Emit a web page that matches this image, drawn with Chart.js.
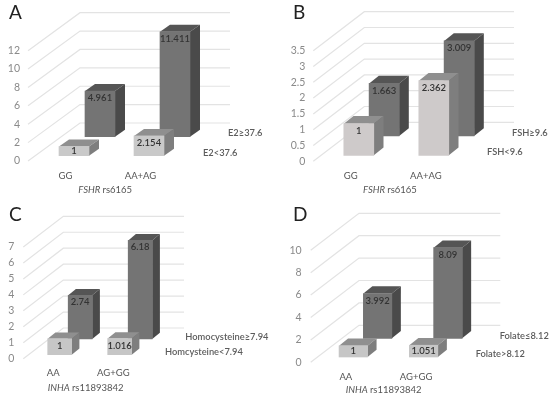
<!DOCTYPE html>
<html>
<head>
<meta charset="utf-8">
<title>Risk by genotype</title>
<script src="https://cdn.jsdelivr.net/npm/chart.js@4"></script>
<style>
  html, body { margin: 0; padding: 0; background: #fff; }
  #page { position: relative; width: 550px; height: 397px; overflow: hidden; filter: blur(0.35px); }
  #page canvas { position: absolute; }
  .letter { position: absolute; font: 19px Lato, sans-serif; color: #222; line-height: 20px; }
</style>
</head>
<body>
<div id="page">
  <canvas id="chartA" width="275" height="200" style="left:0;top:0"></canvas>
  <canvas id="chartB" width="275" height="200" style="left:275px;top:0"></canvas>
  <canvas id="chartC" width="275" height="200" style="left:0;top:197px"></canvas>
  <canvas id="chartD" width="275" height="200" style="left:275px;top:197px"></canvas>
  <div class="letter" style="left:9px;top:2px">A</div>
  <div class="letter" style="left:293px;top:2px">B</div>
  <div class="letter" style="left:9px;top:204px">C</div>
  <div class="letter" style="left:293px;top:204px">D</div>
</div>
<script>
// --- Values ---
const categoriesFSHR = ['GG', 'AA+AG'];
const categoriesINHA = ['AA', 'AG+GG'];

const frontA = [1, 2.154];
const rearA = [4.961, 11.411];
const ticksA = [0, 2, 4, 6, 8, 10, 12];

const frontB = [1, 2.362];
const rearB = [1.663, 3.009];
const ticksB = [0, 0.5, 1, 1.5, 2, 2.5, 3, 3.5];

const frontC = [1, 1.016];
const rearC = [2.74, 6.18];
const ticksC = [0, 1, 2, 3, 4, 5, 6, 7];

const frontD = [1, 1.051];
const rearD = [3.992, 8.09];
const ticksD = [0, 2, 4, 6, 8, 10];

const FONT = 'Lato, sans-serif';

// --- Fake 3D: back wall grid, bar sides, labels ---
const depthPlugin = {
    id: 'depth',
    beforeDatasetsDraw(chart, args, opts) {
        const { ctx, scales: { y } } = chart;
        const left = chart.chartArea.left;
        ctx.save();
        ctx.strokeStyle = '#e3e3e3';
        ctx.lineWidth = 1.2;
        y.ticks.forEach(t => {
            const py = y.getPixelForValue(t.value);
            ctx.beginPath();
            ctx.moveTo(left, py);
            ctx.lineTo(left + opts.wall[0], py + opts.wall[1]);
            ctx.lineTo(opts.lineEnd, py + opts.wall[1]);
            ctx.stroke();
        });
        ctx.restore();

        // series names sit on the depth axis
        ctx.save();
        ctx.font = '600 9.3px ' + FONT;
        ctx.fillStyle = '#5c5c5c';
        ctx.textBaseline = 'middle';
        opts.series.forEach(s => ctx.fillText(s.text, s.x, s.y));

        // gene name is italic, the rs number is not
        ctx.fillStyle = '#555';
        ctx.font = 'italic 9.5px ' + FONT;
        ctx.fillText(opts.gene, opts.geneX, opts.geneY);
        const w = ctx.measureText(opts.gene + ' ').width;
        ctx.font = '9.5px ' + FONT;
        ctx.fillText(opts.rs, opts.geneX + w, opts.geneY);
        ctx.restore();
    },
    beforeDatasetDraw(chart, args, opts) {
        const { ctx } = chart;
        const ds = chart.data.datasets[args.index];
        const [dx, dy] = ds.shift;
        const [sx, sy] = opts.bar;
        ctx.save();
        ctx.translate(dx, dy);
        args.meta.data.forEach(el => {
            const { x, y, base, width } = el.getProps(['x', 'y', 'base', 'width'], true);
            const l = x - width / 2, r = x + width / 2;
            ctx.fillStyle = ds.topColor;
            ctx.beginPath();
            ctx.moveTo(l, y);
            ctx.lineTo(l + sx, y + sy);
            ctx.lineTo(r + sx, y + sy);
            ctx.lineTo(r, y);
            ctx.closePath();
            ctx.fill();
            ctx.fillStyle = ds.sideColor;
            ctx.beginPath();
            ctx.moveTo(r, y);
            ctx.lineTo(r + sx, y + sy);
            ctx.lineTo(r + sx, base + sy);
            ctx.lineTo(r, base);
            ctx.closePath();
            ctx.fill();
        });
    },
    afterDatasetDraw(chart, args) {
        const { ctx } = chart;
        const ds = chart.data.datasets[args.index];
        ctx.font = '600 9.5px ' + FONT;
        ctx.fillStyle = ds.labelColor;
        ctx.textAlign = 'center';
        ctx.textBaseline = 'middle';
        args.meta.data.forEach((el, i) => {
            const { x, y, base } = el.getProps(['x', 'y', 'base'], true);
            ctx.fillText(String(ds.data[i]), x, y + Math.min(7, (base - y) / 2));
        });
        ctx.restore(); // matches the save in beforeDatasetDraw
    }
};

function makePanel(id, categories, front, rear, ticks, p) {
    const frontDataset = {
        data: front,
        backgroundColor: p.frontColor,
        topColor: '#8f8f8f',
        sideColor: '#7e7e7e',
        labelColor: '#333',
        shift: p.frontShift,
        barThickness: p.barWidth,
        clip: false
    };
    const rearDataset = {
        data: rear,
        backgroundColor: '#747474',
        topColor: '#555555',
        sideColor: '#4a4a4a',
        labelColor: '#333',
        shift: p.rearShift,
        barThickness: p.barWidth,
        clip: false
    };
    new Chart(document.getElementById(id), {
        type: 'bar',
        data: { labels: categories, datasets: [frontDataset, rearDataset] },
        plugins: [depthPlugin],
        options: {
            responsive: false,
            animation: false,
            layout: { padding: { top: p.top, right: 275 - p.left - p.plotWidth, left: 0, bottom: 0 } },
            plugins: {
                legend: { display: false },
                tooltip: { enabled: false },
                depth: {
                    wall: p.wall, lineEnd: p.lineEnd, bar: p.bar, series: p.series,
                    gene: p.gene, rs: p.rs, geneX: p.geneX, geneY: p.geneY
                }
            },
            scales: {
                x: {
                    grid: { display: false, drawTicks: false },
                    border: { display: false },
                    ticks: { color: '#555', font: { family: FONT, size: 9.5 }, padding: p.xPad, maxRotation: 0, autoSkip: false },
                    afterFit: s => { s.height = 200 - p.bottom; }
                },
                y: {
                    min: 0,
                    max: ticks[ticks.length - 1],
                    grid: { display: false, drawTicks: false },
                    border: { display: false },
                    afterBuildTicks: s => { s.ticks = ticks.map(value => ({ value })); },
                    ticks: { color: '#8a8a8a', font: { family: FONT, size: 10.5 }, padding: p.yPad, callback: v => String(v) },
                    afterFit: s => { s.width = p.left; }
                }
            }
        }
    });
}

makePanel('chartA', categoriesFSHR, frontA, rearA, ticksA, {
    left: 28, top: 50.7, bottom: 161, plotWidth: 150, wall: [52, -38], lineEnd: 230,
    barWidth: 30, bar: [10, -7], frontShift: [23.5, -5.3], rearShift: [19.5, -24.3],
    frontColor: '#c9c9c9', xPad: 9, yPad: 8,
    series: [{ text: 'E2≥37.6', x: 228, y: 133 }, { text: 'E2<37.6', x: 203, y: 152.7 }],
    gene: 'FSHR', rs: 'rs6165', geneX: 78.3, geneY: 190
});
makePanel('chartB', categoriesFSHR, frontB, rearB, ticksB, {
    left: 38.3, top: 50.7, bottom: 161.3, plotWidth: 150, wall: [51, -39], lineEnd: 239,
    barWidth: 30, bar: [9.7, -7.7], frontShift: [23, -6], rearShift: [18.3, -25.3],
    frontColor: '#cecaca', xPad: 9, yPad: 8,
    series: [{ text: 'FSH≥9.6', x: 237, y: 133 }, { text: 'FSH<9.6', x: 212, y: 152 }],
    gene: 'FSHR', rs: 'rs6165', geneX: 88, geneY: 190
});
makePanel('chartC', categoriesINHA, frontC, rearC, ticksC, {
    left: 23.3, top: 50, bottom: 161.7, plotWidth: 120, wall: [40, -30.7], lineEnd: 184,
    barWidth: 24, bar: [7.7, -6.3], frontShift: [18.4, -4], rearShift: [14.9, -19.7],
    frontColor: '#c6c6c6', xPad: 9, yPad: 9,
    series: [{ text: 'Homocysteine≥7.94', x: 185.3, y: 140 }, { text: 'Homcysteine<7.94', x: 165, y: 155.3 }],
    gene: 'INHA', rs: 'rs11893842', geneX: 47.7, geneY: 190.7
});
makePanel('chartD', categoriesINHA, frontD, rearD, ticksD, {
    left: 35.7, top: 53.3, bottom: 165.3, plotWidth: 140.6, wall: [48.3, -37], lineEnd: 225.3,
    barWidth: 28.5, bar: [9, -7.3], frontShift: [21.7, -5.3], rearShift: [17.5, -24],
    frontColor: '#c6c6c6', xPad: 9, yPad: 9,
    series: [{ text: 'Folate≤8.12', x: 224.7, y: 139 }, { text: 'Folate>8.12', x: 200.7, y: 157 }],
    gene: 'INHA', rs: 'rs11893842', geneX: 70.7, geneY: 193.3
});
</script>
</body>
</html>
